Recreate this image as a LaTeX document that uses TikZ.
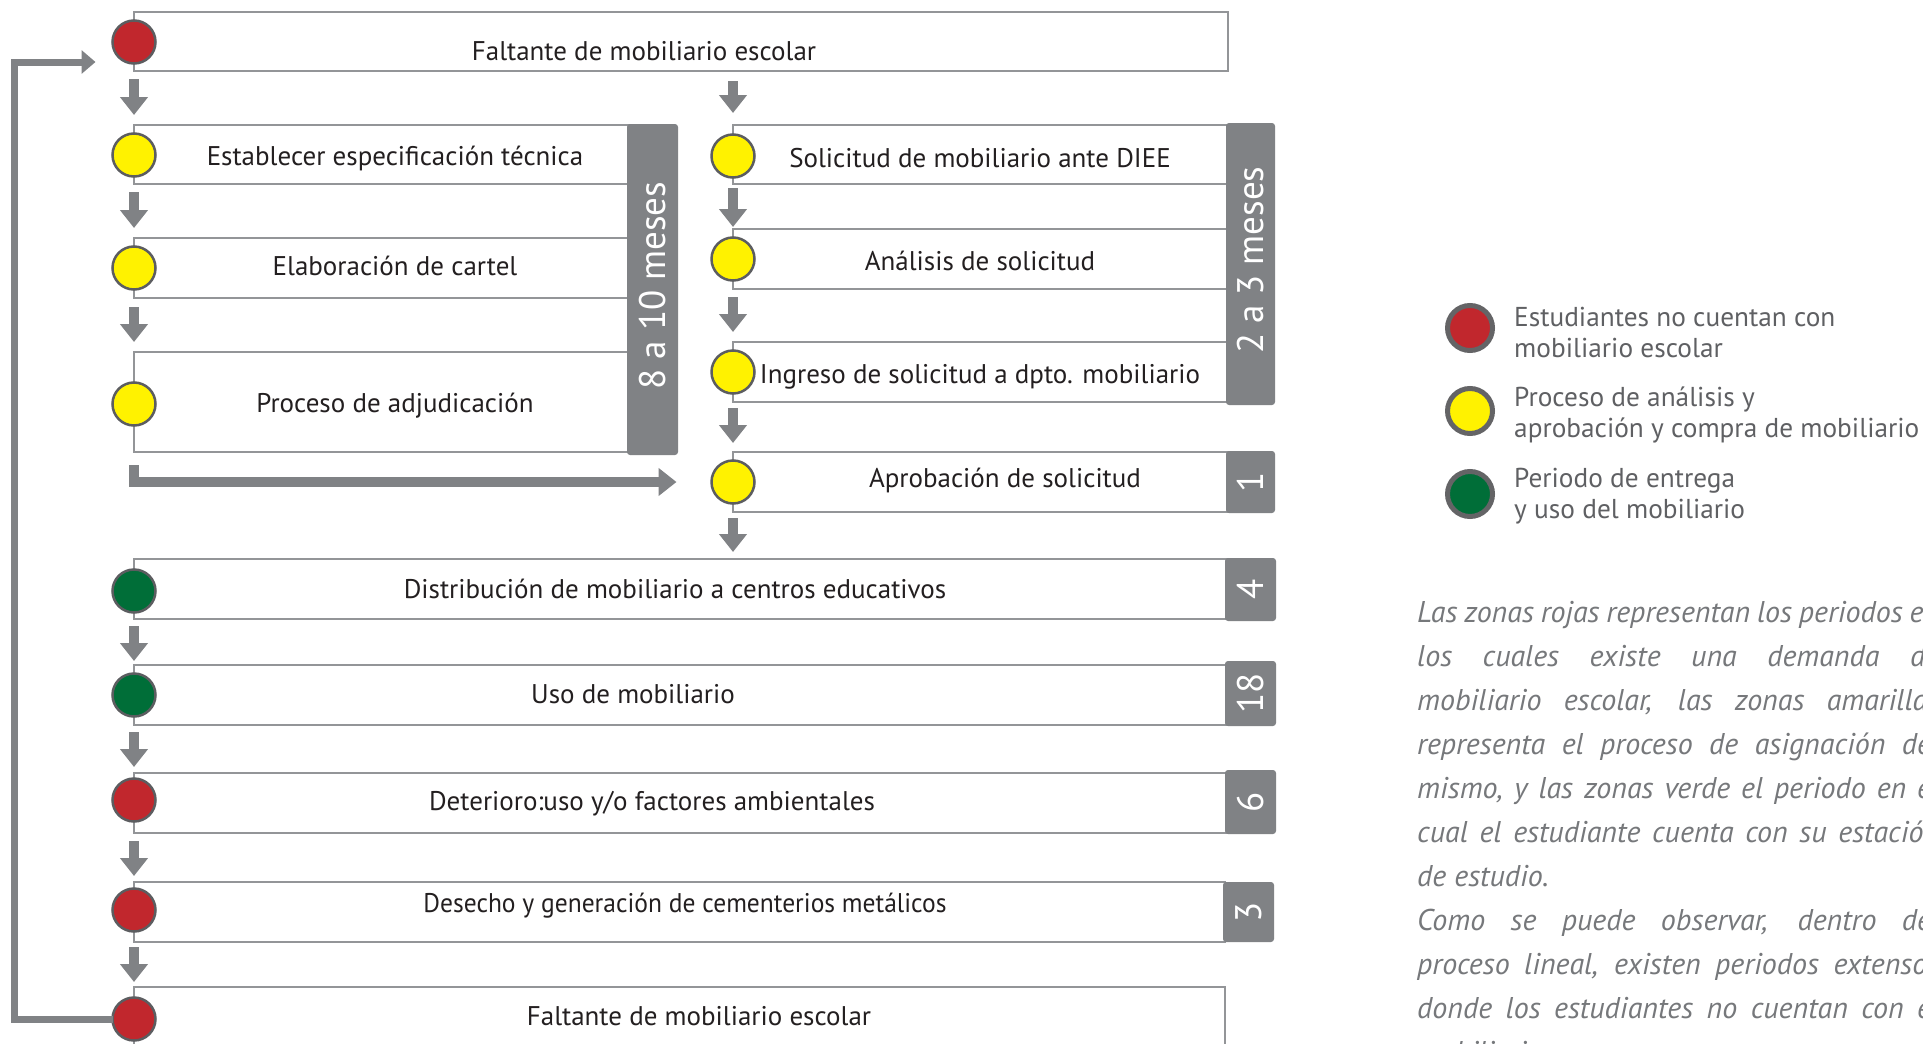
\documentclass[tikz,border=0pt]{standalone}
\usepackage{fontspec}
\setmainfont{PT Sans}
\usetikzlibrary{arrows.meta,calc}
\definecolor{cred}{RGB}{193,39,45}
\definecolor{cyel}{RGB}{255,242,0}
\definecolor{cgrn}{RGB}{0,110,56}
\definecolor{cring}{RGB}{92,93,96}
\definecolor{ckey}{RGB}{100,100,102}
\definecolor{cbox}{RGB}{147,149,152}
\definecolor{cbar}{RGB}{128,130,133}
\definecolor{ctext}{RGB}{35,31,32}
\definecolor{ckeytext}{RGB}{95,96,99}
\definecolor{cpara}{RGB}{118,120,123}
\newcommand\jline[1]{\makebox[522pt][s]{#1}}
\tikzset{
  stepbox/.style={draw=cbox, line width=2pt, fill=white, rectangle, inner sep=0pt, outer sep=0pt, anchor=north west},
  dot/.style={circle, draw=cring, line width=2.5pt, minimum size=43pt, inner sep=0pt, outer sep=0pt},
  keydot/.style={circle, draw=ckey, line width=5pt, minimum size=45pt, inner sep=0pt, outer sep=0pt},
  barbox/.style={fill=cbar, rectangle, rounded corners=3pt, inner sep=0pt, outer sep=0pt, anchor=north west},
  bartxt/.style={rotate=90, text=white, inner sep=0pt, font=\fontsize{37}{40}\selectfont},
  flowtxt/.style={text=ctext, anchor=base, inner sep=0pt, font=\fontsize{27}{32}\selectfont},
  keytxt/.style={text=ckeytext, anchor=base west, inner sep=0pt, font=\fontsize{27.3}{32}\selectfont},
  paratxt/.style={text=cpara, anchor=base west, inner sep=0pt, font=\itshape\fontsize{30}{44}\selectfont},
  blk/.style={draw=cbar, line width=10pt, -{Triangle[width=27pt,length=18pt]}},
  loopline/.style={draw=cbar, line width=7pt, -{Triangle[width=23pt,length=14pt]}},
}
\begin{document}
\begin{tikzpicture}[x=1pt,y=-1pt]
\useasboundingbox (0,0) rectangle (1923,1044);
\clip (0,0) rectangle (1923,1044);
\fill[white] (0,0) rectangle (1923,1044);

% ---- boxes ----
\node[stepbox, minimum width=1094pt, minimum height=59pt] (b0) at (134,12) {};
\node[stepbox, minimum width=510pt, minimum height=59pt] (L1) at (134,125) {};
\node[stepbox, minimum width=510pt, minimum height=60pt] (L2) at (134,238) {};
\node[stepbox, minimum width=510pt, minimum height=100pt] (L3) at (134,352) {};
\node[stepbox, minimum width=507pt, minimum height=59pt] (R1) at (733,125) {};
\node[stepbox, minimum width=507pt, minimum height=60pt] (R2) at (733,229) {};
\node[stepbox, minimum width=507pt, minimum height=60pt] (R3) at (733,342) {};
\node[stepbox, minimum width=495pt, minimum height=60pt] (R4) at (733,452) {};
\node[stepbox, minimum width=1093pt, minimum height=60pt] (D1) at (134,559) {};
\node[stepbox, minimum width=1093pt, minimum height=60pt] (D2) at (134,665) {};
\node[stepbox, minimum width=1093pt, minimum height=60pt] (D3) at (134,773) {};
\node[stepbox, minimum width=1091pt, minimum height=60pt] (D4) at (134,882) {};
\node[stepbox, minimum width=1091pt, minimum height=90pt] (D5) at (134,987) {};

% ---- duration bars ----
\node[barbox, minimum width=51pt, minimum height=331pt] (bar1) at (627,124) {};
\node[barbox, minimum width=49pt, minimum height=282pt] (bar2) at (1226,123) {};
\node[barbox, minimum width=49pt, minimum height=62pt] (n1) at (1226,451) {};
\node[barbox, minimum width=51pt, minimum height=63pt] (n4) at (1225,558) {};
\node[barbox, minimum width=51pt, minimum height=65pt] (n18) at (1225,661) {};
\node[barbox, minimum width=51pt, minimum height=64pt] (n6) at (1225,770) {};
\node[barbox, minimum width=51pt, minimum height=60pt] (n3) at (1223,882) {};
\node[bartxt] (bt1) at ($(bar1.center)+(0,-4)$) {8 a 10 meses};
\node[bartxt] (bt2) at ($(bar2.center)+(0,-4)$) {2 a 3 meses};
\node[bartxt] (bt3) at (n1.center) {1};
\node[bartxt] (bt4) at (n4.center) {4};
\node[bartxt] (bt5) at (n18.center) {18};
\node[bartxt] (bt6) at (n6.center) {6};
\node[bartxt] (bt7) at (n3.center) {3};

% ---- dots ----
\node[dot, fill=cred] (c0) at (134,42) {};
\node[dot, fill=cyel] (cL1) at (134,155) {};
\node[dot, fill=cyel] (cL2) at (134,268) {};
\node[dot, fill=cyel] (cL3) at (134,404) {};
\node[dot, fill=cyel] (cR1) at (733,156) {};
\node[dot, fill=cyel] (cR2) at (733,259) {};
\node[dot, fill=cyel] (cR3) at (733,372) {};
\node[dot, fill=cyel] (cR4) at (733,482) {};
\node[dot, fill=cgrn] (cD1) at (134,591) {};
\node[dot, fill=cgrn] (cD2) at (134,695) {};
\node[dot, fill=cred] (cD3) at (134,800) {};
\node[dot, fill=cred] (cD4) at (134,910) {};
\node[dot, fill=cred] (cD5) at (134,1019) {};

% ---- texts ----
\node[flowtxt] (t0) at (644,60) {Faltante de mobiliario escolar};
\node[flowtxt] (tL1) at (395,165) {Establecer especificación técnica};
\node[flowtxt] (tL2) at (395,275) {Elaboración de cartel};
\node[flowtxt] (tL3) at (395,412) {Proceso de adjudicación};
\node[flowtxt] (tR1) at (980,167) {Solicitud de mobiliario ante DIEE};
\node[flowtxt] (tR2) at (980,270) {Análisis de solicitud};
\node[flowtxt] (tR3) at (980,383) {Ingreso de solicitud a dpto. mobiliario};
\node[flowtxt] (tR4) at (1005,487) {Aprobación de solicitud};
\node[flowtxt] (tD1) at (675,598) {Distribución de mobiliario a centros educativos};
\node[flowtxt] (tD2) at (633,703) {Uso de mobiliario};
\node[flowtxt] (tD3) at (652,810) {Deterioro:uso y/o factores ambientales};
\node[flowtxt] (tD4) at (685,912) {\scalebox{0.945}[1]{Desecho y generación de cementerios metálicos}};
\node[flowtxt] (tD5) at (699,1025) {Faltante de mobiliario escolar};

% ---- arrows, left column ----
\draw[blk] ($(b0.south west)+(0,8)$) -- ($(L1.north west)+(0,-10)$);
\draw[blk] ($(L1.south west)+(0,8)$) -- ($(L2.north west)+(0,-10)$);
\draw[blk] ($(L2.south west)+(0,9)$) -- ($(L3.north west)+(0,-10)$);
\draw[blk] ($(L3.south west)+(0,13)$) |- ($(cR4.west)+(-35,0)$);
\draw[blk] ($(D1.south west)+(0,7)$) -- ($(D2.north west)+(0,-4)$);
\draw[blk] ($(D2.south west)+(0,7)$) -- ($(D3.north west)+(0,-6)$);
\draw[blk] ($(D3.south west)+(0,8)$) -- ($(D4.north west)+(0,-6)$);
\draw[blk] ($(D4.south west)+(0,5)$) -- ($(D5.north west)+(0,-5)$);

% ---- arrows, right column ----
\coordinate (r0) at (b0.south -| R1.north west);
\coordinate (r5) at (D1.north -| R4.north west);
\draw[blk] ($(r0)+(0,10)$) -- ($(R1.north west)+(0,-12)$);
\draw[blk] ($(R1.south west)+(0,4)$) -- ($(R2.north west)+(0,-2)$);
\draw[blk] ($(R2.south west)+(0,8)$) -- ($(R3.north west)+(0,-10)$);
\draw[blk] ($(R3.south west)+(0,6)$) -- ($(R4.north west)+(0,-9)$);
\draw[blk] ($(R4.south west)+(0,6)$) -- ($(r5)+(0,-7)$);

% ---- feedback loop ----
\coordinate (loopx) at (14,0);
\coordinate (lp) at ($(c0.west)+(-17,20)$);
\draw[loopline] (cD5.west) -- (cD5.west -| loopx) |- (lp);

% ---- legend ----
\node[keydot, fill=cred] (k1) at (1470,328) {};
\node[keydot, fill=cyel] (k2) at (1470,411) {};
\node[keydot, fill=cgrn] (k3) at (1470,494) {};
\node[keytxt] (k1a) at (1514,326) {Estudiantes no cuentan con};
\node[keytxt] (k1b) at (1514,357) {mobiliario escolar};
\node[keytxt] (k2a) at (1514,406) {Proceso de análisis y};
\node[keytxt] (k2b) at (1514,437) {aprobación y compra de mobiliario};
\node[keytxt] (k3a) at (1514,487) {Periodo de entrega};
\node[keytxt] (k3b) at (1514,518) {y uso del mobiliario};

% ---- paragraph ----
\node[paratxt] (p1) at (1417,622) {\jline{Las zonas rojas representan los periodos en}};
\node[paratxt] (p2) at (1417,666) {\jline{los cuales existe una demanda de}};
\node[paratxt] (p3) at (1417,710) {\jline{mobiliario escolar, las zonas amarillas}};
\node[paratxt] (p4) at (1417,754) {\jline{representa el proceso de asignación del}};
\node[paratxt] (p5) at (1417,798) {\jline{mismo, y las zonas verde el periodo en el}};
\node[paratxt] (p6) at (1417,842) {\jline{cual el estudiante cuenta con su estación}};
\node[paratxt] (p7) at (1417,886) {de estudio.};
\node[paratxt] (p8) at (1417,930) {\jline{Como se puede observar, dentro del}};
\node[paratxt] (p9) at (1417,974) {\jline{proceso lineal, existen periodos extensos}};
\node[paratxt] (p10) at (1417,1018) {\jline{donde los estudiantes no cuentan con el}};
\node[paratxt] (p11) at (1417,1062) {mobiliario.};
\end{tikzpicture}
\end{document}
